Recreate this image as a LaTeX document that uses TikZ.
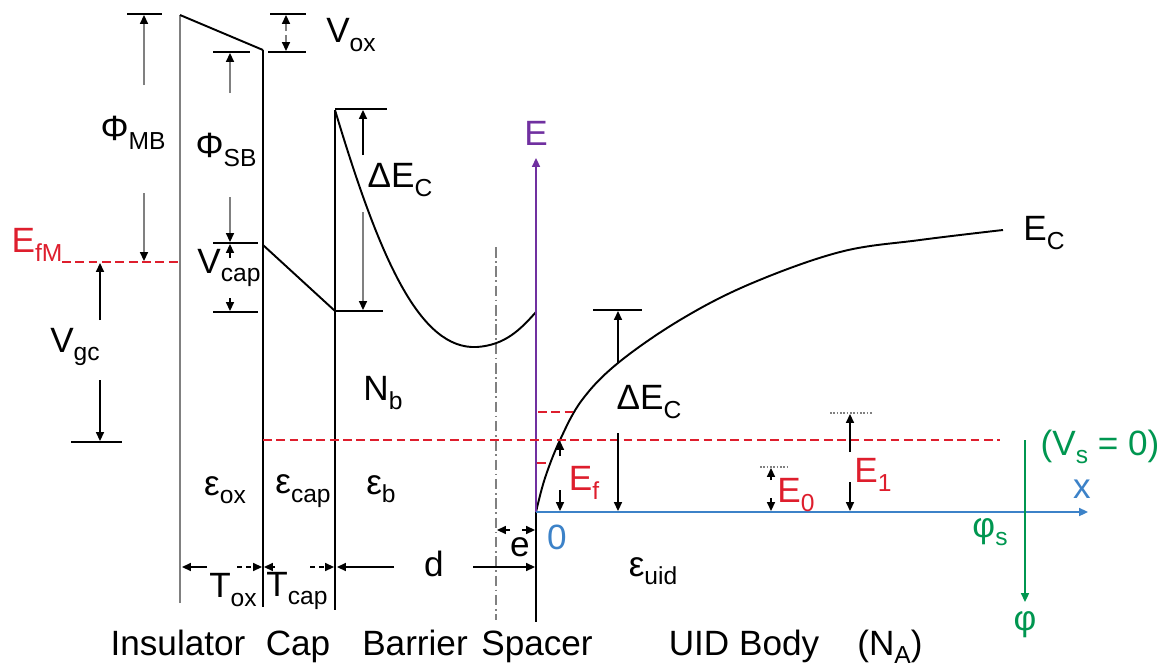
\documentclass[tikz,border=0pt]{standalone}
\usepackage{fontspec}
\setmainfont{Liberation Sans}
\usetikzlibrary{arrows.meta, positioning}

\definecolor{efred}{RGB}{222,30,45}
\definecolor{axpurple}{RGB}{112,48,160}
\definecolor{axblue}{RGB}{60,130,200}
\definecolor{phigreen}{RGB}{0,150,80}

\newcommand{\lsub}[1]{\raisebox{-0.45ex}{\fontsize{14}{14}\selectfont #1}}

\begin{document}
\begin{tikzpicture}[x=0.02cm, y=-0.02cm,
    band/.style={line width=1.1pt},
    wall/.style={line width=1pt},
    bar/.style={line width=0.9pt},
    dim/.style={line width=0.9pt, -{Triangle[length=5pt,width=4.5pt]}},
    dimg/.style={line width=0.9pt, gray, -{Triangle[length=5pt,width=4.5pt,black]}},
    dimd/.style={dim, dash pattern=on 3pt off 2pt},
    fermi/.style={efred, line width=1.6pt, dash pattern=on 5pt off 2.6pt},
    lbl/.style={font=\fontsize{20}{22}\selectfont, inner sep=0pt},
    layer/.style={lbl, anchor=base}
  ]
  \useasboundingbox (0,0) rectangle (1159,666);

  % Schichtgrenzen
  \coordinate (insT) at (180,15);  \coordinate (insB) at (180,603);
  \coordinate (capT) at (263,50);  \coordinate (capB) at (263,607);
  \coordinate (barT) at (335,110); \coordinate (barB) at (335,610);
  \coordinate (spcT) at (536,312); \coordinate (spcB) at (536,622);
  \coordinate (o)    at (536,512);
  \coordinate (dd1)  at (496,247); \coordinate (dd2)  at (496,620);

  \draw[wall, gray] (insB) -- (insT);
  \draw[band] (insT) -- (capT);
  \draw[wall] (capT) -- (capB);
  \draw[wall] (barT) -- (barB);
  \draw[wall] (o) -- (spcB);
  \draw[gray, line width=0.9pt, dash pattern=on 6pt off 2pt on 1pt off 2pt] (dd1) -- (dd2);

  % Leitungsband
  \coordinate (capL) at (263,245); \coordinate (capR) at (335,311);
  \coordinate (bmin) at (477,347);
  \draw[band] (capL) -- (capR);
  \draw[band] (barT) .. controls (380,260) and (420,350) .. (bmin)
                     .. controls (505,345) and (520,330) .. (spcT);
  \draw[band] plot[smooth, tension=0.6] coordinates {(536,512) (545,478) (560,440)
      (582,400) (618,363) (680,320) (750,284) (840,252) (920,240) (1003,230)};

  % Achsen
  \coordinate (Etip) at (536,158); \coordinate (xtip) at (1088,512);
  \coordinate (phT) at (1025,440); \coordinate (phB) at (1025,602);
  \draw[axpurple, dim, line width=1pt] (o) -- (Etip);
  \draw[axblue, dim, line width=1pt] (o) -- (xtip);
  \draw[phigreen, dim, line width=1pt] (phT) -- (phB);

  % Fermi-Niveaus
  \coordinate (efm1) at (62,262);  \coordinate (efm2) at (180,262);
  \coordinate (ef1)  at (263,440); \coordinate (ef2)  at (1000,440);
  \coordinate (e1a)  at (538,412); \coordinate (e1b)  at (578,412);
  \coordinate (e0a)  at (537,463); \coordinate (e0b)  at (550,463);
  \draw[fermi] (efm1) -- (efm2);
  \draw[fermi] (ef1) -- (ef2);
  \draw[fermi] (e1a) -- (e1b);
  \draw[fermi] (e0a) -- (e0b);

  % Bemassung vertikal
  \coordinate (mbA) at (127,14);  \coordinate (mbB) at (162,14);
  \coordinate (mb1) at (144,85);  \coordinate (mb2) at (144,15);
  \coordinate (mb3) at (144,193); \coordinate (mb4) at (144,261);
  \draw[bar] (mbA) -- (mbB);
  \draw[dimg] (mb1) -- (mb2);
  \draw[dimg] (mb3) -- (mb4);

  \coordinate (oxA) at (270,14);  \coordinate (oxB) at (306,14);
  \coordinate (oxC) at (268,52);  \coordinate (oxD) at (306,52);
  \coordinate (ox1) at (286,31);  \coordinate (ox2) at (286,15);
  \coordinate (ox3) at (286,35);  \coordinate (ox4) at (286,51);
  \draw[bar] (oxA) -- (oxB);
  \draw[bar] (oxC) -- (oxD);
  \draw[dimg] (ox1) -- (ox2);
  \draw[dimg] (ox3) -- (ox4);

  \coordinate (sbA) at (213,52);  \coordinate (sbB) at (250,52);
  \coordinate (sb1) at (230,93);  \coordinate (sb2) at (230,53);
  \coordinate (sb3) at (230,197); \coordinate (sb4) at (230,242);
  \draw[bar] (sbA) -- (sbB);
  \draw[dimg] (sb1) -- (sb2);
  \draw[dimg] (sb3) -- (sb4);

  \coordinate (cpA) at (213,243); \coordinate (cpB) at (258,243);
  \coordinate (cpC) at (213,312); \coordinate (cpD) at (258,312);
  \coordinate (cp1) at (230,258); \coordinate (cp2) at (230,244);
  \coordinate (cp3) at (230,298); \coordinate (cp4) at (230,311);
  \draw[bar] (cpA) -- (cpB);
  \draw[bar] (cpC) -- (cpD);
  \draw[dim] (cp1) -- (cp2);
  \draw[dim] (cp3) -- (cp4);

  \coordinate (bcA) at (335,109); \coordinate (bcB) at (387,109);
  \coordinate (bcC) at (335,311); \coordinate (bcD) at (383,311);
  \coordinate (bc1) at (363,155); \coordinate (bc2) at (363,110);
  \coordinate (bc3) at (363,212); \coordinate (bc4) at (363,310);
  \draw[bar] (bcA) -- (bcB);
  \draw[bar] (bcC) -- (bcD);
  \draw[dim] (bc1) -- (bc2);
  \draw[dimg] (bc3) -- (bc4);

  \coordinate (ucA) at (593,310); \coordinate (ucB) at (642,310);
  \coordinate (uc1) at (618,363); \coordinate (uc2) at (618,311);
  \coordinate (uc3) at (618,433); \coordinate (uc4) at (618,511);
  \draw[bar] (ucA) -- (ucB);
  \draw[dim] (uc1) -- (uc2);
  \draw[dim] (uc3) -- (uc4);

  \coordinate (ef3) at (560,456); \coordinate (ef4) at (560,441);
  \coordinate (ef5) at (560,490); \coordinate (ef6) at (560,511);
  \draw[dim] (ef3) -- (ef4);
  \draw[dim] (ef5) -- (ef6);

  \coordinate (z0A) at (760,467); \coordinate (z0B) at (787,467);
  \coordinate (z01) at (771,480); \coordinate (z02) at (771,468);
  \coordinate (z03) at (771,498); \coordinate (z04) at (771,511);
  \draw[gray, densely dotted, line width=0.9pt] (z0A) -- (z0B);
  \draw[dim] (z01) -- (z02);
  \draw[dim] (z03) -- (z04);

  \coordinate (z1A) at (830,413); \coordinate (z1B) at (872,413);
  \coordinate (z11) at (850,452); \coordinate (z12) at (850,414);
  \coordinate (z13) at (850,482); \coordinate (z14) at (850,511);
  \draw[gray, densely dotted, line width=0.9pt] (z1A) -- (z1B);
  \draw[dim] (z11) -- (z12);
  \draw[dim] (z13) -- (z14);

  \coordinate (gcA) at (71,442);  \coordinate (gcB) at (122,442);
  \coordinate (gc1) at (100,320); \coordinate (gc2) at (100,263);
  \coordinate (gc3) at (100,380); \coordinate (gc4) at (100,441);
  \draw[bar] (gcA) -- (gcB);
  \draw[dim] (gc1) -- (gc2);
  \draw[dim] (gc3) -- (gc4);

  % Bemassung horizontal
  \coordinate (tx1) at (207,567); \coordinate (tx2) at (182,567);
  \coordinate (tx3) at (237,567); \coordinate (tx4) at (262,567);
  \coordinate (tc1) at (275,567); \coordinate (tc2) at (264,567);
  \coordinate (tc3) at (310,567); \coordinate (tc4) at (334,567);
  \coordinate (dd3) at (394,567); \coordinate (dd4) at (337,567);
  \coordinate (dd5) at (473,567); \coordinate (dd6) at (535,567);
  \coordinate (ee1) at (510,530); \coordinate (ee2) at (497,530);
  \coordinate (ee3) at (522,530); \coordinate (ee4) at (535,530);
  \draw[dim] (tx1) -- (tx2);
  \draw[dimd] (tx3) -- (tx4);
  \draw[dim] (tc1) -- (tc2);
  \draw[dimd] (tc3) -- (tc4);
  \draw[dim] (dd3) -- (dd4);
  \draw[dim] (dd5) -- (dd6);
  \draw[dimd] (ee1) -- (ee2);
  \draw[dimd] (ee3) -- (ee4);

  % Beschriftungen
  \node[lbl] (phimb) at (133,133) {Φ\lsub{MB}};
  \node[lbl] (vox)   at (351,35)  {V\lsub{ox}};
  \node[lbl] (phisb) at (226,150) {Φ\lsub{SB}};
  \node[lbl] (vcap)  at (229,268) {V\lsub{cap}};
  \node[lbl, efred] (efm) at (37,245) {E\lsub{fM}};
  \node[lbl] (vgc)   at (75,347)  {V\lsub{gc}};
  \node[lbl] (dEcb)  at (400,180) {ΔE\lsub{C}};
  \node[lbl, axpurple, above=0.24cm of Etip] (Elbl) {E};
  \node[lbl] (Ec)    at (1044,233) {E\lsub{C}};
  \node[lbl] (Nb)    at (383,393) {N\lsub{b}};
  \node[lbl] (dEcu)  at (649,402) {ΔE\lsub{C}};
  \node[lbl, efred] (Ef) at (584,483) {E\lsub{f}};
  \node[lbl, efred] (E0) at (796,495) {E\lsub{0}};
  \node[lbl, efred] (E1) at (873,475) {E\lsub{1}};
  \node[lbl, phigreen] (vs) at (1100,447) {(V\lsub{s} = 0)};
  \node[lbl, axblue] (xlbl) at (1082,489) {x};
  \node[lbl, axblue] (zero) at (557,537) {0};
  \node[lbl, phigreen] (phis) at (990,532) {φ\lsub{s}};
  \node[lbl, phigreen] (phi) at (1025,625) {φ};
  \node[lbl] (eox)   at (225,490) {ε\lsub{ox}};
  \node[lbl] (ecap)  at (303,491) {ε\lsub{cap}};
  \node[lbl] (eb)    at (381,489) {ε\lsub{b}};
  \node[lbl] (euid)  at (653,571) {ε\lsub{uid}};
  \node[lbl] (tox)   at (233,590) {T\lsub{ox}};
  \node[lbl] (tcap)  at (297,591) {T\lsub{cap}};
  \node[lbl] (dlbl)  at (434,564) {d};
  \node[lbl] (elbl)  at (520,547) {e};

  % Schichtnamen
  \node[layer] (ins) at (178,655) {Insulator};
  \node[layer] (cap) at (298,655) {Cap};
  \node[layer] (bar) at (415,655) {Barrier};
  \node[layer] (spc) at (537,655) {Spacer};
  \node[layer] (uid) at (744,655) {UID Body};
  \node[layer] (na)  at (890,655) {(N\lsub{A})};
\end{tikzpicture}
\end{document}
